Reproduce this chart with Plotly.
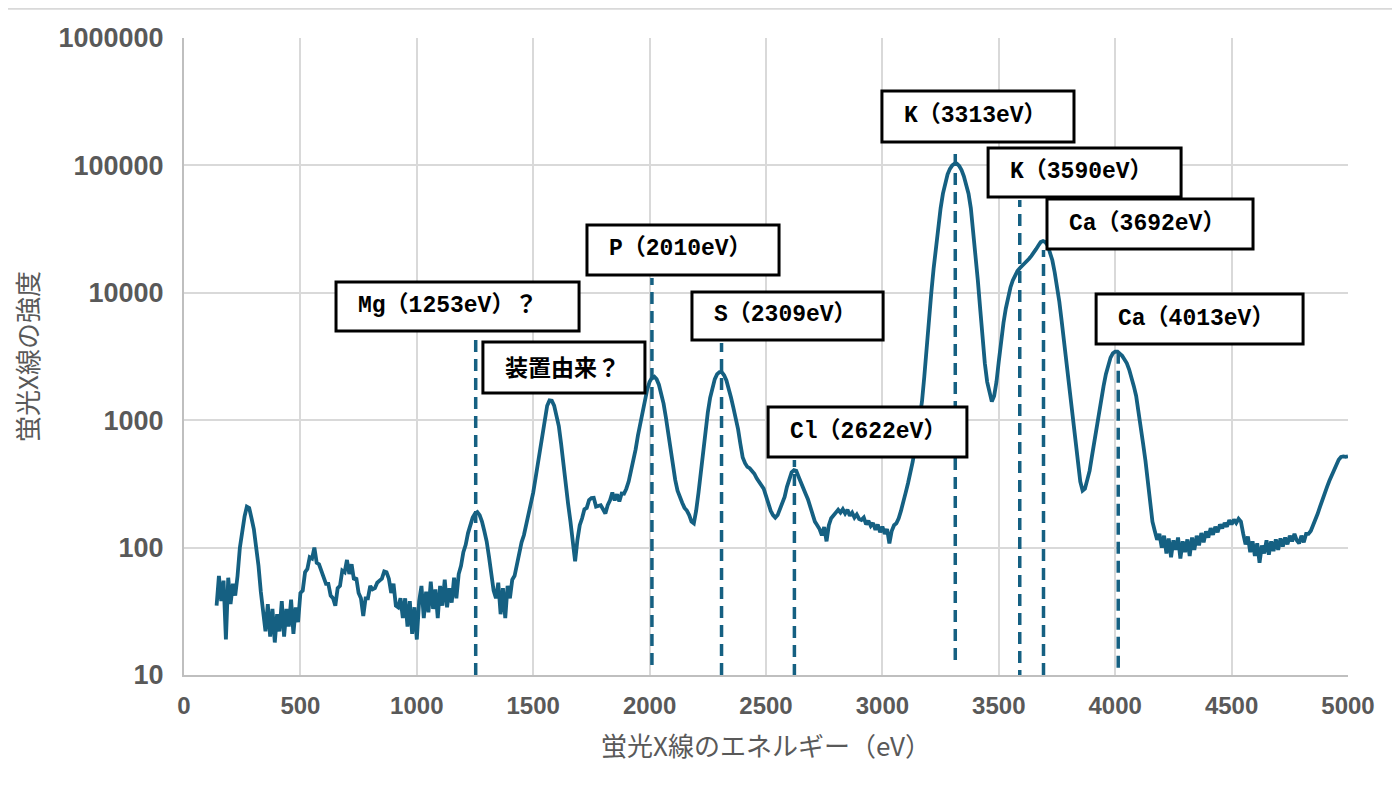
import math
import plotly.graph_objects as go

# ---------------- data ----------------
# intensity per 10 eV channel, starting at 140 eV (rows of 10 channels)
intensity = [
    35, 60, 38, 55, 19, 58, 36, 52, 42, 60,            # 140-230
    100, 140, 175, 210, 205, 170, 140, 100, 72, 45,    # 240-330
    33, 22, 36, 20, 33, 18, 30, 22, 38, 20,            # 340-430
    33, 24, 39, 21, 34, 26, 44, 46, 64, 68,            # 440-530
    84, 82, 100, 76, 74, 66, 60, 52, 52, 42,           # 540-630
    40, 35, 48, 50, 66, 64, 80, 62, 74, 56,            # 640-730
    58, 44, 40, 29, 40, 40, 50, 47, 48, 53,            # 740-830
    55, 57, 65, 64, 57, 44, 52, 35, 34, 40,            # 840-930
    28, 40, 24, 38, 21, 34, 19, 38, 50, 28,            # 940-1030
    45, 31, 54, 33, 47, 28, 50, 35, 56, 34,            # 1040-1130
    48, 37, 58, 40, 62, 72, 92, 105, 130, 155,         # 1140-1230
    172, 185, 190, 180, 160, 135, 112, 85, 60, 46,     # 1240-1330
    40, 53, 30, 48, 28, 50, 40, 56, 60, 75,            # 1340-1430
    90, 110, 125, 150, 175, 215, 270, 350, 460, 620,   # 1440-1530
    810, 1050, 1300, 1430, 1420, 1300, 1100, 900, 650, 440,   # 1540-1630
    330, 220, 160, 110, 78, 115, 150, 170, 200, 205,   # 1640-1730
    236, 245, 246, 210, 212, 215, 200, 185, 215, 235,  # 1740-1830
    270, 235, 262, 230, 266, 265, 290, 330, 400, 470,  # 1840-1930
    590, 760, 950, 1200, 1500, 1750, 2000, 2150, 2200, 2100,  # 1940-2030
    1900, 1650, 1350, 1050, 780, 580, 430, 340, 280, 245,     # 2040-2130
    225, 205, 195, 180, 160, 155, 195, 270, 400, 600,  # 2140-2230
    850, 1150, 1500, 1850, 2100, 2300, 2380, 2380, 2250, 2050,  # 2240-2330
    1800, 1500, 1250, 1050, 850, 650, 510, 460, 430, 420,     # 2340-2430
    400, 380, 350, 330, 310, 290, 255, 220, 195, 180,  # 2440-2530
    172, 180, 200, 225, 250, 300, 350, 390, 405, 400,  # 2540-2630
    360, 320, 290, 265, 240, 210, 180, 160, 150, 140,  # 2640-2730
    125, 145, 112, 150, 170, 178, 185, 198, 188, 200,  # 2740-2830
    185, 198, 178, 188, 172, 182, 168, 165, 172, 152,  # 2840-2930
    162, 148, 156, 138, 152, 132, 146, 128, 140, 108,  # 2940-3030
    135, 150, 155, 170, 195, 225, 270, 320, 380, 470,  # 3040-3130
    600, 780, 1050, 1400, 2200, 3800, 6200, 10000, 15500, 23000,        # 3140-3230
    33000, 46000, 60000, 73000, 85000, 94000, 100000, 103000, 103000, 99000,  # 3240-3330
    92000, 82000, 71000, 60000, 46000, 31000, 19500, 12500, 7500, 4500,  # 3340-3430
    2800, 2000, 1600, 1400, 1550, 2000, 2900, 4300, 5800, 7500,          # 3440-3530
    9300, 11000, 12500, 13800, 14800, 15600, 16200, 17000, 17800, 18500,  # 3540-3630
    19500, 20500, 22000, 23500, 25000, 25500, 25000, 23500, 21000, 18000,  # 3640-3730
    14500, 11500, 8500, 6000, 4200, 2900, 2000, 1400, 950, 650,          # 3740-3830
    450, 330, 280, 290, 340, 400, 520, 680, 870, 1100,                   # 3840-3930
    1450, 1850, 2300, 2750, 3100, 3350, 3450, 3450, 3350, 3200,          # 3940-4030
    3000, 2800, 2500, 2200, 1850, 1550, 1200, 900, 650, 480,             # 4040-4130
    330, 210, 160, 135, 115, 128, 100, 124, 90, 118,   # 4140-4230
    84, 114, 96, 120, 82, 112, 92, 116, 86, 120,       # 4240-4330
    96, 124, 104, 130, 110, 134, 120, 142, 126, 146,   # 4340-4430
    132, 152, 142, 156, 146, 164, 152, 166, 156, 168,  # 4440-4530
    160, 128, 106, 122, 92, 112, 86, 108, 76, 104,     # 4540-4630
    90, 114, 88, 112, 94, 116, 96, 118, 102, 120,      # 4640-4730
    106, 124, 112, 128, 114, 108, 124, 110, 128, 128,  # 4740-4830
    135, 150, 165, 185, 210, 240, 270, 300, 335, 370,  # 4840-4930
    410, 450, 490, 515, 520, 515, 520,                 # 4940-5000
]
energy_ev = [140 + 10 * i for i in range(len(intensity))]

# peak labels and their marker lines
label_texts = ["Mg（1253eV）？", "装置由来？", "P（2010eV）", "S（2309eV）",
               "Cl（2622eV）", "K（3313eV）", "K（3590eV）", "Ca（3692eV）", "Ca（4013eV）"]
# box extents: left/right energy (eV), top/bottom intensity
box_x0 = [653, 1284, 1731, 2182, 2509, 2998, 3454, 3707, 3918]
box_x1 = [1697, 1980, 2556, 3003, 3363, 3823, 4283, 4592, 4807]
box_ytop = [12160, 4111, 34060, 10150, 1269, 383700, 136960, 54490, 9786]
box_ybot = [5014, 1635, 13800, 4262, 514, 152600, 56490, 22070, 3964]

line_ev = [1253, 2010, 2309, 2622, 3313, 3590, 3692, 4013]
line_ytop = [4580, 13060, 4036, 487, 137000, 53500, 21700, 3754]
line_ybot = [10, 12.0, 10, 9.8, 13.1, 8.8, 10, 11.4]

y_tickvals = [10, 100, 1000, 10000, 100000, 1000000]
y_ticktext = ["10", "100", "1000", "10000", "100000", "1000000"]
x_tickvals = list(range(0, 5001, 500))

# ---------------- figure ----------------
COLOR = "#156082"
GRAY = "#595959"

fig = go.Figure()
fig.add_trace(go.Scatter(x=energy_ev, y=intensity, mode="lines",
                         line=dict(color=COLOR, width=3.8), showlegend=False,
                         hoverinfo="skip"))

shapes = []
for xe, yt, yb in zip(line_ev, line_ytop, line_ybot):
    shapes.append(dict(type="line", xref="x", yref="y", x0=xe, x1=xe, y0=yb, y1=yt,
                       line=dict(color=COLOR, width=3.5, dash="12px,7px"), layer="above"))
for x0, x1, yt, yb in zip(box_x0, box_x1, box_ytop, box_ybot):
    shapes.append(dict(type="rect", xref="x", yref="y", x0=x0, x1=x1, y0=yb, y1=yt,
                       line=dict(color="black", width=3), fillcolor="white", layer="above"))
# thin chart border line at the very top
shapes.append(dict(type="line", xref="paper", yref="paper", x0=-0.2, x1=1.2, y0=1.046, y1=1.046,
                   line=dict(color="#d9d9d9", width=2)))

annotations = []
for txt, x0, yt, yb in zip(label_texts, box_x0, box_ytop, box_ybot):
    is_cjk = txt.startswith("装")
    fam = "Noto Sans CJK JP" if is_cjk else "Liberation Mono, 'Courier New', 'Noto Sans CJK JP'"
    annotations.append(dict(text=txt, xref="x", yref="y", x=x0,
                            y=(math.log10(yt) + math.log10(yb)) / 2,
                            xanchor="left", yanchor="middle", xshift=20, yshift=1, showarrow=False,
                            font=dict(family=fam, size=23, color="black", weight="bold")))

fig.update_layout(
    width=1384, height=786,
    margin=dict(l=176, r=44, t=30, b=119),
    paper_bgcolor="white", plot_bgcolor="white",
    shapes=shapes, annotations=annotations,
    xaxis=dict(range=[0, 5000], tickvals=x_tickvals, showgrid=True, gridcolor="#d9d9d9",
               gridwidth=2, showline=True, linecolor="#bfbfbf", linewidth=2, zeroline=False,
               ticks="", ticklabelstandoff=8,
               tickfont=dict(family="Liberation Sans, Arial", size=24, color=GRAY, weight="bold"),
               title=dict(text="蛍光X線のエネルギー（eV）", standoff=20,
                          font=dict(family="Noto Sans CJK JP", size=26, color=GRAY))),
    yaxis=dict(type="log", range=[1, 6], tickvals=y_tickvals, ticktext=y_ticktext,
               showgrid=True, gridcolor="#d9d9d9", gridwidth=2, showline=True,
               linecolor="#bfbfbf", linewidth=2, zeroline=False, ticks="", ticklabelstandoff=13,
               tickfont=dict(family="Liberation Sans, Arial", size=27, color=GRAY, weight="bold"),
               title=dict(text="蛍光X線の強度", standoff=14,
                          font=dict(family="Noto Sans CJK JP", size=26, color=GRAY))),
)

fig.write_html("out.html")
